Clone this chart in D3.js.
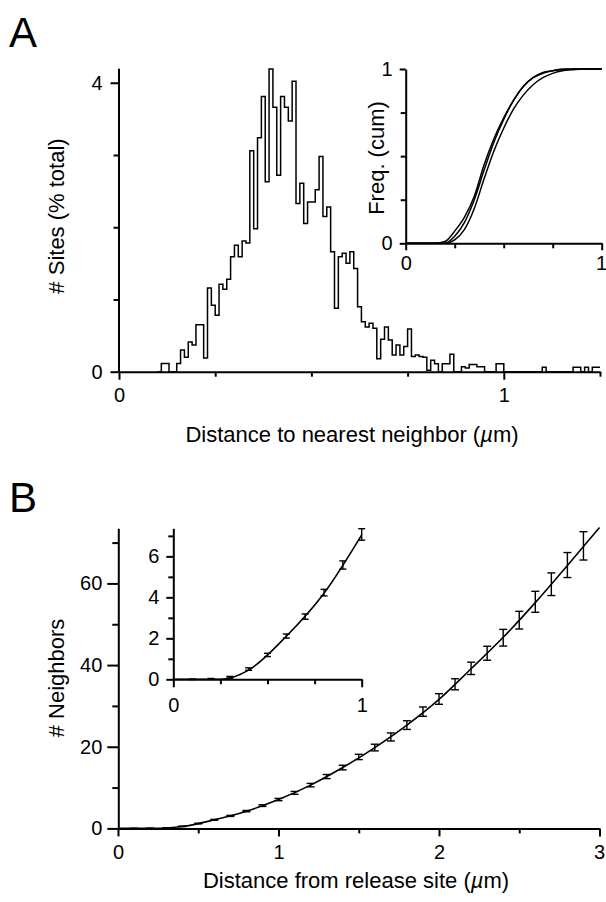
<!DOCTYPE html>
<html>
<head>
<meta charset="utf-8">
<script src="https://cdn.jsdelivr.net/npm/d3@7"></script>
<style>
  body { margin: 0; background: #fff; }
  svg { display: block; }
</style>
</head>
<body>
<svg id="chart" width="606" height="902"></svg>
<script>
// ---- panel A : nearest neighbour histogram, bins of 0.01 µm starting at 0
const binWidth = 0.01;
const siteFreq = [
  0, 0, 0, 0, 0, 0, 0, 0, 0, 0,
  0, 0.115, 0.115, 0, 0, 0.115, 0.30, 0.20, 0.41, 0.37,
  0.65, 0.65, 0.19, 1.16, 0.92, 0.78, 1.21, 1.14, 1.28, 1.59,
  1.75, 1.59, 1.81, 1.78, 3.06, 1.98, 3.24, 3.81, 2.63, 4.19,
  3.66, 2.72, 3.81, 3.66, 3.47, 4.02, 2.33, 2.61, 2.05, 2.35,
  2.35, 2.52, 2.98, 2.15, 2.28, 1.66, 0.88, 1.59, 1.64, 1.50,
  1.66, 1.43, 0.90, 0.69, 0.62, 0.67, 0.60, 0.18, 0.45, 0.62,
  0.44, 0.23, 0.37, 0.23, 0.35, 0.59, 0.21, 0.23, 0.21, 0.20,
  0.02, 0.16, 0.11, 0, 0.11, 0.11, 0.24, 0, 0, 0.07,
  0.05, 0.10, 0.10, 0.07, 0.07, 0, 0, 0, 0.11, 0.11,
  0, 0, 0, 0, 0, 0, 0, 0, 0, 0,
  0.06, 0, 0, 0, 0, 0, 0, 0, 0.06, 0.06,
  0, 0.06, 0, 0.06, 0.06
];

// inset A : cumulative frequency, three data sets
const cumX = [0, 0.15, 0.2, 0.25, 0.3, 0.35, 0.4, 0.45, 0.5, 0.55, 0.6, 0.65, 0.7, 0.75, 0.8, 0.85, 0.9, 1.0];
const cum1 = [0, 0, 0.01, 0.07, 0.15, 0.27, 0.45, 0.60, 0.72, 0.82, 0.90, 0.95, 0.98, 0.99, 1.0, 1.0, 1.0, 1.0];
const cum2 = [0, 0, 0, 0.04, 0.12, 0.25, 0.42, 0.58, 0.71, 0.82, 0.90, 0.95, 0.975, 0.99, 0.995, 1.0, 1.0, 1.0];
const cum3 = [0, 0, 0, 0.02, 0.08, 0.20, 0.37, 0.53, 0.66, 0.77, 0.85, 0.91, 0.95, 0.975, 0.99, 0.995, 1.0, 1.0];

// ---- panel B : neighbours within a distance of a release site
const distB = [0.1, 0.2, 0.3, 0.4, 0.5, 0.6, 0.7, 0.8, 0.9, 1.0,
  1.1, 1.2, 1.3, 1.4, 1.5, 1.6, 1.7, 1.8, 1.9, 2.0,
  2.1, 2.2, 2.3, 2.4, 2.5, 2.6, 2.7, 2.8, 2.9];
const neighbors = [0, 0.02, 0.1, 0.5, 1.19, 2.11, 3.06, 4.23, 5.58, 7.07,
  8.7, 10.6, 12.7, 14.9, 17.5, 19.8, 22.4, 25.3, 28.6, 31.7,
  35.3, 39.2, 42.9, 46.7, 51.0, 55.5, 59.8, 64.5, 69.2];
const neighborsErr = [0.01, 0.02, 0.04, 0.06, 0.08, 0.10, 0.13, 0.16, 0.20, 0.28,
  0.35, 0.42, 0.50, 0.57, 0.65, 0.82, 0.98, 1.06, 1.14, 1.30,
  1.35, 1.51, 1.71, 2.04, 2.16, 2.57, 2.77, 3.06, 3.47];
// fitted curve
const fitX = [0, 0.25, 0.4, 0.6, 0.8, 1.0, 1.2, 1.4, 1.6, 1.8, 2.0, 2.2, 2.4, 2.6, 2.8, 3.0];
const fitY = [0, 0, 0.45, 2.1, 4.2, 7.05, 10.6, 14.9, 19.8, 25.3, 31.6, 39.1, 46.8, 55.3, 64.4, 73.7];

const font = '"Liberation Sans", Arial, Helvetica, sans-serif';
const ink = '#000';
const tickFont = 20;
const titleFont = 22;
const svg = d3.select('#chart').attr('font-family', font);

// axis with long labelled ticks and short unlabelled ones
const addAxis = (pos, orient, scale, major, minor, o) => {
    const make = orient === 'left' ? d3.axisLeft : d3.axisBottom;
    const tr = orient === 'left' ? `translate(${pos},0)` : `translate(0,${pos})`;
    const gMin = svg.append('g').attr('transform', tr)
        .call(make(scale).tickValues(minor).tickSize(o.minor).tickSizeOuter(0).tickFormat(''));
    const gMaj = svg.append('g').attr('transform', tr)
        .call(make(scale).tickValues(major).tickSize(o.major).tickSizeOuter(0)
            .tickPadding(o.pad).tickFormat(d3.format('d')));
    gMaj.select('.domain').remove();
    [gMin, gMaj].forEach(g => {
        g.attr('font-family', font).attr('font-size', tickFont);
        g.selectAll('path, line').attr('stroke', ink).attr('stroke-width', 2);
        g.selectAll('text').attr('fill', ink);
    });
    return gMaj;
};

const errorBars = (x, y, xs, ys, es, cap) => {
    const g = svg.append('g').attr('stroke', ink).attr('stroke-width', 1.4).attr('fill', 'none');
    xs.forEach((d, i) => {
        if (x.domain()[1] < d) return;
        const top = y(ys[i] + es[i]), bot = y(ys[i] - es[i]);
        g.append('line').attr('x1', x(d)).attr('x2', x(d)).attr('y1', top).attr('y2', bot);
        g.append('line').attr('x1', x(d) - cap).attr('x2', x(d) + cap).attr('y1', top).attr('y2', top);
        g.append('line').attr('x1', x(d) - cap).attr('x2', x(d) + cap).attr('y1', bot).attr('y2', bot);
    });
};

const addText = (x, y, str, size, rot, anchor) => svg.append('text')
    .attr('transform', `translate(${x},${y})` + (rot ? ' rotate(-90)' : ''))
    .attr('font-size', size).attr('fill', ink)
    .attr('text-anchor', anchor || 'middle')
    .text(str);
const withMicron = (t, before) => {
    t.append('tspan').text(before + ' (');
    t.append('tspan').attr('font-style', 'italic').text('\u00b5');
    t.append('tspan').text('m)');
};

// ================= panel A =================
const xA = d3.scaleLinear().domain([0, 1.25]).range([119, 600]);
const yA = d3.scaleLinear().domain([0, 4.2]).range([371.7, 68.3]);

const histPts = siteFreq.map((v, i) => [i * binWidth, v]).filter(d => d[0] >= 0.1);
histPts.push([1.25, siteFreq[siteFreq.length - 1]]);
svg.append('path')
    .datum(histPts)
    .attr('fill', 'none').attr('stroke', ink).attr('stroke-width', 1.5)
    .attr('d', d3.line().x(d => xA(d[0])).y(d => yA(d[1])).curve(d3.curveStepAfter));

addAxis(371.7, 'bottom', xA, [0, 1], [0.25, 0.5, 0.75, 1.25], { major: 8, minor: 5, pad: 8 });
addAxis(118.5, 'left', yA, [0, 4], [1, 2, 3], { major: 8, minor: 5, pad: 8 });

addText(9, 47, 'A', 42, false, 'start');
withMicron(addText(352, 442, '', titleFont), 'Distance to nearest neighbor');
addText(64, 216, '# Sites (% total)', titleFont, true);

// inset A
const xAi = d3.scaleLinear().domain([0, 1]).range([405.7, 601.7]);
const yAi = d3.scaleLinear().domain([0, 1]).range([243.3, 69]);
[cum1, cum2, cum3].forEach(c => {
    svg.append('path')
        .datum(c.map((v, i) => [cumX[i], v]))
        .attr('fill', 'none').attr('stroke', ink).attr('stroke-width', 1.5)
        .attr('d', d3.line().x(d => xAi(d[0])).y(d => yAi(d[1])).curve(d3.curveMonotoneX));
});
const insetAx = addAxis(243.3, 'bottom', xAi, [0, 1], [0.25, 0.5, 0.75], { major: 7, minor: 5, pad: 6 });
// last label sits on the page edge: pull it in a little
insetAx.selectAll('text').filter(d => d === 1).attr('text-anchor', 'end').attr('dx', 5);
addAxis(405.7, 'left', yAi, [0, 1], [0.25, 0.5, 0.75], { major: 6, minor: 5, pad: 7 });
addText(384, 158, 'Freq. (cum)', titleFont, true);

// ================= panel B =================
const xB = d3.scaleLinear().domain([0, 3]).range([118, 599.5]);
const yB = d3.scaleLinear().domain([0, 73.5]).range([828.4, 528.3]);

const fitLine = (x, y, maxX) => d3.line()
    .x(d => x(d[0])).y(d => y(d[1])).curve(d3.curveMonotoneX)(
        fitX.map((v, i) => [v, fitY[i]]).filter(d => d[0] <= maxX));

svg.append('path').attr('fill', 'none').attr('stroke', ink).attr('stroke-width', 1.6)
    .attr('d', fitLine(xB, yB, 3));
errorBars(xB, yB, distB, neighbors, neighborsErr, 4);

const mainBx = addAxis(828.4, 'bottom', xB, [0, 1, 2, 3], [0.5, 1.5, 2.5], { major: 8, minor: 5, pad: 8 });
mainBx.selectAll('text').filter(d => d === 3).attr('text-anchor', 'end').attr('dx', 5);
addAxis(118.3, 'left', yB, [0, 20, 40, 60], [10, 30, 50, 70], { major: 11, minor: 6, pad: 5 });

addText(9, 512, 'B', 42, false, 'start');
withMicron(addText(356, 888, '', titleFont), 'Distance from release site');
addText(64, 678, '# Neighbors', titleFont, true);

// inset B
const xBi = d3.scaleLinear().domain([0, 1]).range([173.3, 361.7]);
const yBi = d3.scaleLinear().domain([0, 7.37]).range([679.3, 528.3]);
svg.append('path').attr('fill', 'none').attr('stroke', ink).attr('stroke-width', 1.6)
    .attr('d', fitLine(xBi, yBi, 1));
errorBars(xBi, yBi, distB, neighbors, neighborsErr, 3.5);

addAxis(679.3, 'bottom', xBi, [0, 1], [0.25, 0.5, 0.75], { major: 8, minor: 5, pad: 11 });
addAxis(173.3, 'left', yBi, [0, 2, 4, 6], [1, 3, 5, 7], { major: 7, minor: 5, pad: 7 });
</script>
</body>
</html>
